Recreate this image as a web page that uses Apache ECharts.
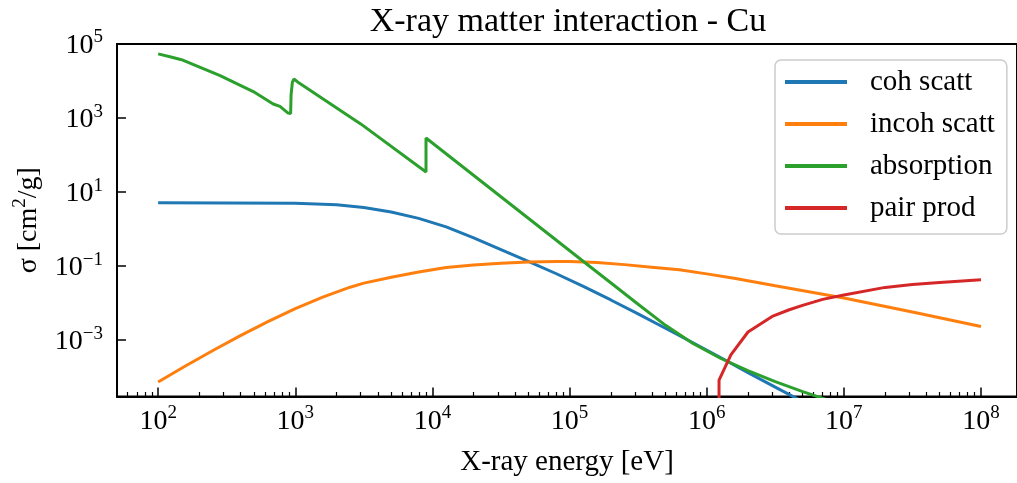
<!DOCTYPE html>
<html><head><meta charset="utf-8">
<script src="https://cdn.jsdelivr.net/npm/echarts@6/dist/echarts.min.js"></script>
<style>html,body{margin:0;padding:0;background:#fff}#c{width:1017px;height:483px}</style>
</head><body><div id="c"></div>
<script>
// ---- data (energy in eV, cross-section in cm^2/g) ----
const cohEnergy = [100, 316, 1000, 2000, 3160, 5000, 7940, 12600, 20000, 31600, 50000, 79400, 126000, 200000, 316000, 500000, 794000, 1260000, 2000000, 3160000, 5000000];
const cohSigma  = [5.11, 5.09, 5.01, 4.57, 3.85, 2.88, 1.95, 1.148, 0.575, 0.279, 0.135, 0.0631, 0.0282, 0.01216, 5.13e-3, 2.09e-3, 8.51e-4, 3.39e-4, 1.32e-4, 5.37e-5, 2.19e-5];

const incohEnergy = [100, 158, 251, 398, 631, 1000, 1585, 2512, 3162, 5012, 7943, 12589, 19953, 31623, 50119, 79433, 100000, 158489, 251189, 398107, 630957, 1000000, 1584893, 3162278, 1e7, 31622777, 1e8];
const incohSigma  = [7.41e-5, 2.0e-4, 5.25e-4, 1.32e-3, 3.16e-3, 7.08e-3, 0.01445, 0.0269, 0.0347, 0.0501, 0.0692, 0.0912, 0.107, 0.119, 0.129, 0.1337, 0.1324, 0.1245, 0.1096, 0.0933, 0.0794, 0.0617, 0.0468, 0.0295, 0.0138, 5.75e-3, 2.34e-3];

const absEnergy = [100, 124, 148, 283, 494, 690, 773, 887, 925, 932, 948, 952, 977, 1067, 1097, 1100, 3000, 8979, 8979, 129000, 199526, 316228, 501187, 794328, 1259000, 1995000, 3162000, 5012000, 7943000, 12590000];
const absSigma  = [5.4e4, 4.45e4, 3.77e4, 1.39e4, 5.2e3, 2.39e3, 2.06e3, 1.36e3, 1.33e3, 4.3e3, 4.1e3, 9.2e3, 1.13e4, 8.8e3, 8.6e3, 9.7e3, 695, 35, 288, 0.125, 0.0354, 9.33e-3, 2.51e-3, 8.13e-4, 3.24e-4, 1.51e-4, 7.59e-5, 4.07e-5, 2.29e-5, 1.32e-5];

const pairEnergy = [1.23e6, 1.23e6, 1.5e6, 2e6, 3e6, 4e6, 5e6, 6e6, 7e6, 1e7, 2e7, 3.16e7, 5e7, 1e8];
const pairSigma  = [1e-8, 8.3e-5, 3.98e-4, 1.66e-3, 4.37e-3, 6.61e-3, 8.71e-3, 0.0106, 0.0126, 0.0166, 0.0266, 0.0316, 0.0363, 0.0427];

const seriesNames = ['coh scatt', 'incoh scatt', 'absorption', 'pair prod'];
const seriesColors = ['#1f77b4', '#ff7f0e', '#2ca02c', '#d62728'];

const xMajorTicks = [1e2, 1e3, 1e4, 1e5, 1e6, 1e7, 1e8];
const yMajorTicks = [1e-3, 1e-1, 1e1, 1e3, 1e5];
const xMin = Math.pow(10, 1.7), xMax = Math.pow(10, 8.2626);
const yMin = 3e-5, yMax = 1e5;

// minor ticks (2..9 x 10^k) inside x range
const xMinorTicks = [];
for (let k = 1; k <= 8; k++) for (let m = 2; m <= 9; m++) {
  const v = m * Math.pow(10, k);
  if (v > xMin && v < xMax) xMinorTicks.push(v);
}

const zip = (a, b) => a.map((v, i) => [v, b[i]]);
const seriesData = [zip(cohEnergy, cohSigma), zip(incohEnergy, incohSigma), zip(absEnergy, absSigma), zip(pairEnergy, pairSigma)];

const FONT = "'Liberation Serif', 'Times New Roman', serif";
const expLabel = v => {
  const e = Math.round(Math.log10(v));
  return '{b|10}{s|' + (e < 0 ? '\u2212' + (-e) : e) + '}';
};
const labelRich = {
  b: { fontFamily: FONT, fontSize: 28, color: '#000', lineHeight: 32, verticalAlign: 'bottom' },
  s: { fontFamily: FONT, fontSize: 19, color: '#000', lineHeight: 19, verticalAlign: 'top' }
};

const chart = echarts.init(document.getElementById('c'), null, { renderer: 'canvas' });
chart.setOption({
  animation: false,
  backgroundColor: '#fff',
  graphic: [{
    type: 'text', x: 568, y: 22,
    style: { text: 'X-ray matter interaction - Cu', font: "34px 'Liberation Serif', serif", fill: '#000', textAlign: 'center', textVerticalAlign: 'middle' }
  }],
  grid: { left: 117, top: 44, right: 0, bottom: 86.5, show: true, borderColor: '#000', borderWidth: 2, backgroundColor: 'transparent' },
  legend: {
    orient: 'vertical', left: 775, top: 60,
    data: seriesNames,
    icon: 'rect', itemWidth: 62, itemHeight: 4, itemGap: 12,
    padding: [7, 12, 11, 10],
    backgroundColor: '#fff', borderColor: '#cccccc', borderWidth: 1.5, borderRadius: 6,
    textStyle: { fontFamily: FONT, fontSize: 29, color: '#000', lineHeight: 30, padding: [0, 0, 0, 18] }
  },
  xAxis: [{
    type: 'log', logBase: 10, min: xMin, max: xMax, position: 'bottom',
    name: 'X-ray energy [eV]', nameLocation: 'middle', nameGap: 51,
    nameTextStyle: { fontFamily: FONT, fontSize: 29, color: '#000' },
    axisLine: { show: true, lineStyle: { color: '#000', width: 2 } },
    axisTick: { show: true, inside: true, length: 9, lineStyle: { color: '#000', width: 1.5 }, customValues: xMajorTicks },
    axisLabel: { show: true, margin: 7, customValues: xMajorTicks, formatter: expLabel, rich: labelRich },
    splitLine: { show: false }, minorTick: { show: false }
  }, {
    type: 'log', logBase: 10, min: xMin, max: xMax, position: 'bottom',
    axisLine: { show: false },
    axisTick: { show: true, inside: true, length: 4.5, lineStyle: { color: '#000', width: 1.2 }, customValues: xMinorTicks },
    axisLabel: { show: false }, splitLine: { show: false }
  }],
  yAxis: {
    type: 'log', logBase: 10, min: yMin, max: yMax,
    name: '{a|\u03c3 [cm}{s|2}{a|/g]}', nameLocation: 'middle', nameGap: 74, nameRotate: 90,
    nameTextStyle: { rich: {
      a: { fontFamily: FONT, fontSize: 28, color: '#000', lineHeight: 32, verticalAlign: 'bottom' },
      s: { fontFamily: FONT, fontSize: 19, color: '#000', lineHeight: 19, verticalAlign: 'top' }
    } },
    axisLine: { show: true, lineStyle: { color: '#000', width: 2 } },
    axisTick: { show: true, inside: true, length: 9, lineStyle: { color: '#000', width: 1.5 }, customValues: yMajorTicks },
    axisLabel: { show: true, margin: 14, customValues: yMajorTicks, formatter: expLabel, rich: labelRich },
    splitLine: { show: false }
  },
  series: seriesNames.map((n, i) => ({
    name: n, type: 'line', xAxisIndex: 0, data: seriesData[i],
    symbol: 'none', clip: true,
    lineStyle: { color: seriesColors[i], width: 3 },
    itemStyle: { color: seriesColors[i] },
    z: 2 + i
  }))
});
</script></body></html>
